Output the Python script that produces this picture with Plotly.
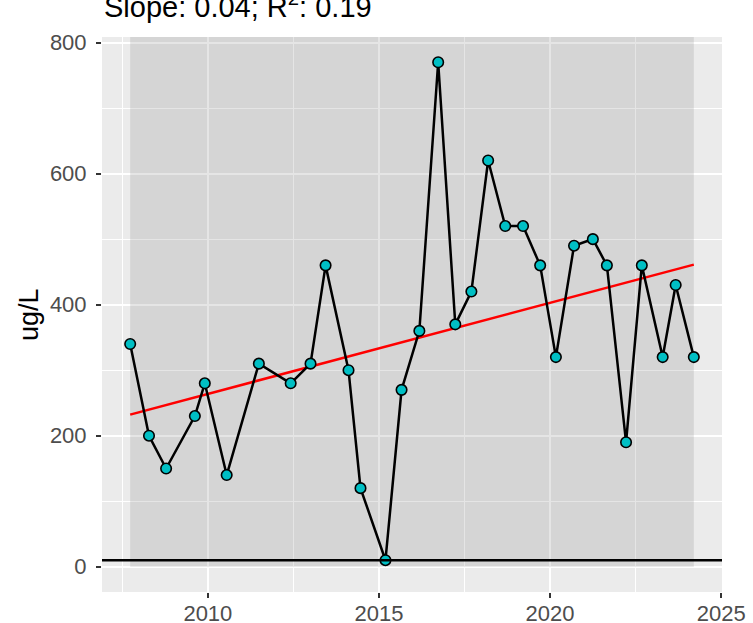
import numpy as np
import plotly.graph_objects as go

# Sampling dates (decimal years) and measured concentrations (ug/L)
dates = [2007.73, 2008.28, 2008.78, 2009.62, 2009.91, 2010.55, 2011.49, 2012.42,
         2013.00, 2013.44, 2014.11, 2014.46, 2015.19, 2015.66, 2016.18, 2016.73,
         2017.23, 2017.70, 2018.19, 2018.69, 2019.21, 2019.71, 2020.17, 2020.70,
         2021.25, 2021.66, 2022.22, 2022.68, 2023.29, 2023.67, 2024.20]
values = [340, 200, 150, 230, 280, 140, 310, 280,
          310, 460, 300, 120, 10, 270, 360, 770,
          370, 420, 620, 520, 520, 460, 320, 490,
          500, 460, 190, 460, 320, 430, 320]

reporting_limit = 10
title_text = "Slope: 0.04; R<sup>2</sup>: 0.19"
y_label = "ug/L"
x_ticks = [2010, 2015, 2020, 2025]
y_ticks = [0, 200, 400, 600, 800]

x = np.array(dates)
y = np.array(values, dtype=float)

# Linear trend over the sampled period
slope, intercept = np.polyfit(x, y, 1)
trend_x = np.array([x.min(), x.max()])
trend_y = intercept + slope * trend_x

# ggplot-like 5% expansion of the data ranges
def expand(lo, hi, f=0.05):
    d = hi - lo
    return [lo - f * d, hi + f * d]

x_range = expand(x.min(), x.max())
y_range = expand(0, y.max())

FONT = "Liberation Sans, Arial, Helvetica, sans-serif"

fig = go.Figure()

fig.add_trace(go.Scatter(
    x=trend_x, y=trend_y, mode="lines",
    line=dict(color="#FF0000", width=2.5), hoverinfo="skip", showlegend=False))

fig.add_trace(go.Scatter(
    x=x, y=y, mode="lines+markers",
    line=dict(color="black", width=2.5),
    marker=dict(size=10.5, color="#00BFC4", line=dict(color="black", width=1.6)),
    showlegend=False))

# Sampling-period band and reporting-limit line
fig.add_shape(type="rect", xref="x", yref="y",
              x0=x.min(), x1=x.max(), y0=0, y1=y_range[1],
              fillcolor="rgba(127,127,127,0.2)", line=dict(width=0), layer="between")
fig.add_shape(type="line", xref="x domain", yref="y",
              x0=0, x1=1, y0=reporting_limit, y1=reporting_limit,
              line=dict(color="black", width=2.5), layer="above")

fig.add_annotation(text=title_text, xref="paper", yref="paper", x=0, y=1,
                   xanchor="left", yanchor="bottom", yshift=12, showarrow=False,
                   font=dict(family=FONT, size=29, color="black"))
fig.add_annotation(text=y_label, xref="paper", yref="paper", x=-(102 - 28.5) / 620, y=0.5,
                   xanchor="center", yanchor="middle", textangle=-90, showarrow=False,
                   font=dict(family=FONT, size=27, color="black"))

axis_common = dict(
    showline=False, zeroline=False, ticks="outside", ticklen=5, tickwidth=1.5,
    tickcolor="#333333", gridcolor="white", gridwidth=2, automargin=False,
    tickfont=dict(family=FONT, size=22, color="#4D4D4D"),
)

fig.update_xaxes(range=x_range, tickvals=x_ticks, ticktext=[str(t) for t in x_ticks],
                 ticklabelstandoff=-3,
                 minor=dict(showgrid=True, gridcolor="white", gridwidth=1, tick0=2005, dtick=2.5, ticks=""),
                 **axis_common)
fig.update_yaxes(range=y_range, tickvals=y_ticks, ticktext=[str(t) for t in y_ticks],
                 ticklabelstandoff=5,
                 minor=dict(showgrid=True, gridcolor="white", gridwidth=1, tick0=0, dtick=100, ticks=""),
                 **axis_common)

fig.update_layout(
    width=753, height=623,
    margin=dict(l=102, r=31, t=37, b=31),
    paper_bgcolor="white", plot_bgcolor="#EBEBEB",
    font=dict(family=FONT),
)

fig.write_html("out.html")
